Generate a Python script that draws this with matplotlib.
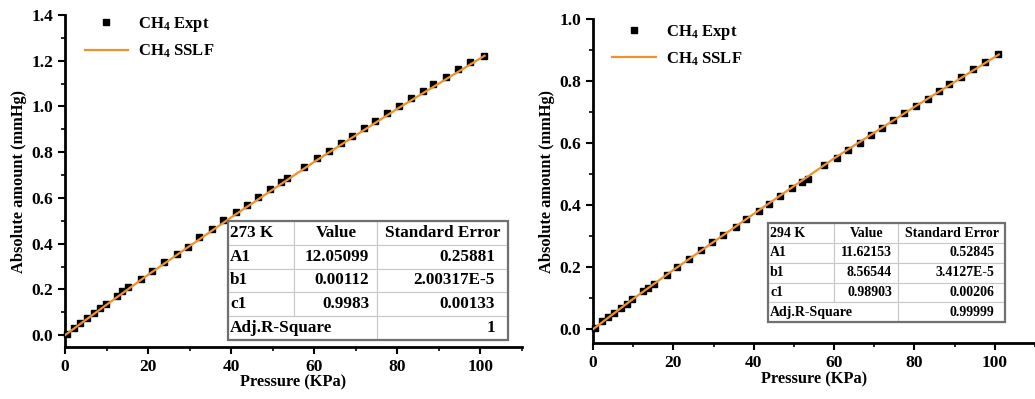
#!/usr/bin/env python

from matplotlib import pyplot as plt
from matplotlib.patches import Rectangle

plt.rcParams['font.family'] = ['Liberation Serif', 'DejaVu Serif']
plt.rcParams['font.weight'] = 'bold'
plt.rcParams['mathtext.fontset'] = 'custom'
plt.rcParams['mathtext.rm'] = 'Liberation Serif:bold'
plt.rcParams['mathtext.bf'] = 'Liberation Serif:bold'
plt.rcParams['mathtext.default'] = 'bf'

# pressure points (KPa), same for both temperatures
pressure = [0.4, 2.2, 3.6, 5.3, 6.9, 8.4, 9.8, 12.5, 13.8, 15.1, 18.3, 21.0, 23.8, 26.9,
            29.5, 32.3, 35.5, 38.0, 41.2, 43.7, 46.5, 49.4, 52.0, 53.5, 57.6, 60.6, 63.5,
            66.4, 69.2, 71.9, 74.7, 77.5, 80.3, 83.3, 86.1, 88.7, 91.6, 94.6, 97.5, 100.8]

# 273 K measured amounts
expt_273 = [0.007, 0.029, 0.051, 0.073, 0.095, 0.117, 0.136, 0.171, 0.193, 0.211, 0.246,
            0.281, 0.318, 0.357, 0.386, 0.427, 0.462, 0.503, 0.537, 0.569, 0.605, 0.640,
            0.671, 0.688, 0.736, 0.773, 0.805, 0.841, 0.871, 0.904, 0.938, 0.970, 1.002,
            1.035, 1.069, 1.098, 1.130, 1.164, 1.194, 1.222]

# 294 K measured amounts
expt_294 = [0.004, 0.025, 0.040, 0.053, 0.068, 0.082, 0.096, 0.123, 0.134, 0.145, 0.174,
            0.201, 0.228, 0.255, 0.280, 0.303, 0.330, 0.357, 0.382, 0.405, 0.429, 0.456,
            0.475, 0.486, 0.529, 0.553, 0.577, 0.602, 0.626, 0.649, 0.674, 0.696, 0.719,
            0.744, 0.769, 0.792, 0.814, 0.838, 0.862, 0.886]

# fitted (SSLF) curves, read at a few pressures
fit_p = [0, 10, 20, 40, 60, 80, 101]
fit_273 = [0.0, 0.133, 0.264, 0.515, 0.758, 0.990, 1.222]
fit_294 = [0.0, 0.098, 0.191, 0.372, 0.551, 0.717, 0.886]

table_273 = [['273 K', 'Value', 'Standard Error'],
             ['A1', '12.05099', '0.25881'],
             ['b1', '0.00112', '2.00317E-5'],
             ['c1', '0.9983', '0.00133'],
             ['Adj.R-Square', '', '1']]
table_294 = [['294 K', 'Value', 'Standard Error'],
             ['A1', '11.62153', '0.52845'],
             ['b1', '8.56544', '3.4127E-5'],
             ['c1', '0.98903', '0.00206'],
             ['Adj.R-Square', '', '0.99999']]

line_color = '#f0922b'


def style_axes(ax, ymax, ymin, xmax):
    ax.set_xlim(0, xmax)
    ax.set_ylim(ymin, ymax)
    for side in ['top', 'right']:
        ax.spines[side].set_visible(False)
    for side in ['left', 'bottom']:
        ax.spines[side].set_linewidth(2.0)
    ax.set_xticks([0, 20, 40, 60, 80, 100])
    ax.set_xticks([10, 30, 50, 70, 90, 110], minor=True)
    ax.tick_params(which='major', direction='out', length=5, width=1.5, labelsize=12.5)
    ax.tick_params(which='minor', direction='out', length=3, width=1.2)
    ax.set_xlabel('Pressure (KPa)', fontsize=11.8, fontweight='bold', labelpad=0)
    ax.set_ylabel('Absolute amount (mmHg)', fontsize=11.8, fontweight='bold', labelpad=3)


def add_table(ax, rows, bbox, widths, fontsize):
    tab = ax.table(cellText=rows, colWidths=widths, bbox=bbox, cellLoc='right')
    tab.auto_set_font_size(False)
    tab.set_fontsize(fontsize)
    for (r, c), cell in tab.get_celld().items():
        cell.set_edgecolor('#c8c8c8')
        cell.set_linewidth(0.8)
        cell.get_text().set_fontweight('bold')
        if c == 0:
            cell.get_text().set_horizontalalignment('left')
            cell._loc = 'left'
            cell.PAD = 0.03
        if r == 0 and c > 0:
            cell.get_text().set_horizontalalignment('center')
            cell._loc = 'center'
    tab[4, 0].visible_edges = 'BTL'
    tab[4, 1].visible_edges = 'BT'
    ax.add_patch(Rectangle((bbox[0], bbox[1]), bbox[2], bbox[3], transform=ax.transAxes,
                           fill=False, edgecolor='#707070', linewidth=1.6, zorder=10))


def main():
    fig = plt.figure(figsize=(10.35, 3.99), dpi=100)

    ax1 = fig.add_axes([0.0628, 0.1303, 0.4415, 0.832])
    ax1.plot(fit_p, fit_273, '-', color=line_color, lw=1.6, zorder=3, label=r'CH$_4$ SSLF')
    ax1.plot(pressure, expt_273, 's', color='black', ms=4.8, zorder=2, label=r'CH$_4$ Expt',
             clip_on=False)
    style_axes(ax1, 1.4, -0.052, 109)
    ax1.set_yticks([0.0, 0.2, 0.4, 0.6, 0.8, 1.0, 1.2, 1.4])
    ax1.set_yticks([0.1, 0.3, 0.5, 0.7, 0.9, 1.1, 1.3], minor=True)
    h, l = ax1.get_legend_handles_labels()
    ax1.legend(h[::-1], l[::-1], loc='upper left', bbox_to_anchor=(0.01, 1.045), frameon=False,
               fontsize=12, handlelength=2.6, handletextpad=0.6, labelspacing=0.5)
    add_table(ax1, table_273, [0.357, 0.021, 0.612, 0.359], [0.237, 0.297, 0.466], 12.3)

    ax2 = fig.add_axes([0.573, 0.140, 0.427, 0.812])
    ax2.plot(fit_p, fit_294, '-', color=line_color, lw=1.6, zorder=3, label=r'CH$_4$ SSLF')
    ax2.plot(pressure, expt_294, 's', color='black', ms=4.8, zorder=2, label=r'CH$_4$ Expt',
             clip_on=False)
    style_axes(ax2, 1.0, -0.045, 108)
    ax2.set_yticks([0.0, 0.2, 0.4, 0.6, 0.8, 1.0])
    ax2.set_yticks([0.1, 0.3, 0.5, 0.7, 0.9], minor=True)
    h, l = ax2.get_legend_handles_labels()
    ax2.legend(h[::-1], l[::-1], loc='upper left', bbox_to_anchor=(0.01, 1.035), frameon=False,
               fontsize=12, handlelength=2.6, handletextpad=0.6, labelspacing=0.5)
    add_table(ax2, table_294, [0.396, 0.065, 0.536, 0.305], [0.28, 0.27, 0.45], 10.0)

    fig.savefig('out.png', dpi=100)


if __name__ == "__main__":
    main()
